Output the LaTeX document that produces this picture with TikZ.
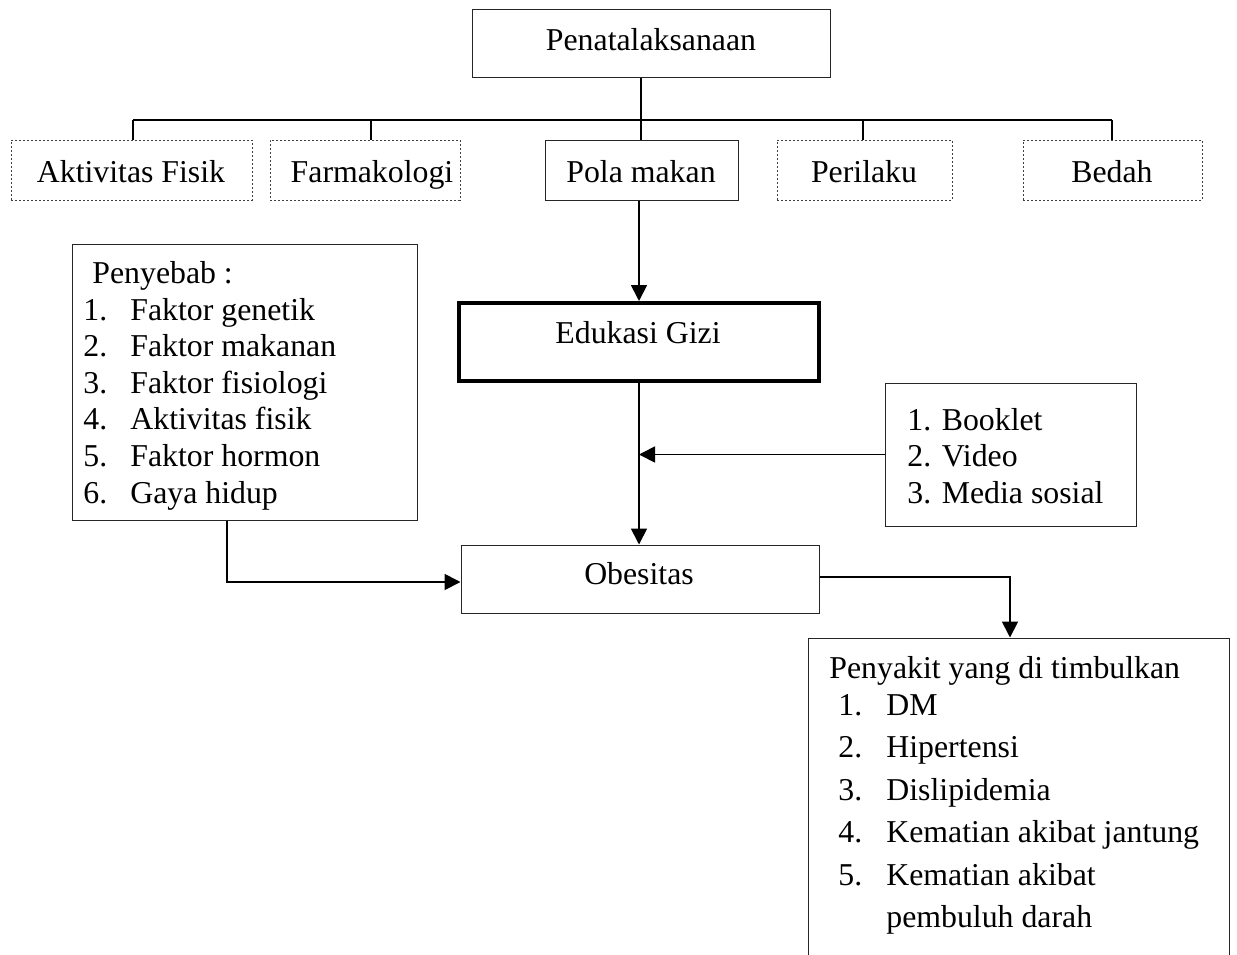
\documentclass[tikz,border=0pt]{standalone}
\usepackage{fontspec}
\setmainfont{Liberation Serif}
\usetikzlibrary{arrows.meta,fit}

\begin{document}
\begin{tikzpicture}[x=0.5pt,y=-0.5pt,
  font=\fontsize{15.9}{19}\selectfont,
  box/.style={draw=black!85, line width=0.5pt, inner sep=0pt},
  dotbox/.style={draw=black!75, line width=0.5pt, inner sep=0pt, dash pattern=on 1.2pt off 0.8pt},
  thickbox/.style={draw, line width=2pt, inner sep=0pt},
  txt/.style={inner sep=0pt},
  link/.style={line width=0.9pt},
  arrow/.style={line width=0.9pt, -{Triangle[length=8pt,width=8pt]}}]

  \clip (0,0) rectangle (1237,954);

  % top level
  \node[box, fit={(472,9) (830,77)}] (pena) {};
  \node[txt, anchor=base] (tpena) at (651,50) {Penatalaksanaan};

  %-------------
  \node[dotbox, fit={(11,140) (252,200)}] (akt) {};
  \node[dotbox, fit={(270,140) (460,200)}] (farm) {};
  \node[box, fit={(545,140) (738,200)}] (pola) {};
  \node[dotbox, fit={(777,140) (952,200)}] (peri) {};
  \node[dotbox, fit={(1023,140) (1202,200)}] (bedah) {};

  \node[txt, anchor=base] (takt) at (131,182) {Aktivitas Fisik};
  \node[txt, anchor=base] (tfarm) at (372,182) {Farmakologi};
  \node[txt, anchor=base] (tpola) at (641,182) {Pola makan};
  \node[txt, anchor=base] (tperi) at (864,182) {Perilaku};
  \node[txt, anchor=base] (tbedah) at (1112,182) {Bedah};

  \coordinate (b1) at (133,120);
  \coordinate (b2) at (371,120);
  \coordinate (b3) at (641,120);
  \coordinate (b4) at (863,120);
  \coordinate (b5) at (1112,120);

  \draw[link] (pena.south -| b3) -- (b3);
  \draw[link] (b1) -- (b5);
  \draw[link] (b1) -- (b1 |- akt.north);
  \draw[link] (b2) -- (b2 |- farm.north);
  \draw[link] (b3) -- (b3 |- pola.north);
  \draw[link] (b4) -- (b4 |- peri.north);
  \draw[link] (b5) -- (b5 |- bedah.north);

  %-------------
  \node[thickbox, fit={(459,303) (819,381)}] (edu) {};
  \node[txt, anchor=base] (tedu) at (638,343) {Edukasi Gizi};

  \node[box, fit={(461,545) (819,613)}] (obes) {};
  \node[txt, anchor=base] (tobes) at (639,584) {Obesitas};

  \draw[arrow] (pola.south -| edu.north) -- (edu.north);
  \draw[arrow] (edu.south) -- (edu.south |- obes.north);

  %-------------
  \node[box, fit={(885,383) (1136,526)}] (media) {};
  \foreach \t [count=\i] in {Booklet, Video, Media sosial}
    \node[txt, anchor=base west] (med\i) at (907,393.4+36.6*\i) {\i. \t};

  \draw[arrow] (media.west) -- (media.west -| edu.south);

  %-------------
  \node[box, fit={(72,244) (417,520)}] (sebab) {};
  \node[txt, anchor=base west] (tsebab) at (92,283) {Penyebab :};
  \foreach \t [count=\i] in {Faktor genetik, Faktor makanan, Faktor fisiologi,
      Aktivitas fisik, Faktor hormon, Gaya hidup} {
    \node[txt, anchor=base west] (snum\i) at (83,283.4+36.6*\i) {\i.};
    \node[txt, anchor=base west] (sitem\i) at (130,283.4+36.6*\i) {\t};
  }

  \coordinate (turn1) at (227,582);
  \draw[arrow] (sebab.south -| turn1) -- (turn1) -- (turn1 -| obes.west);

  %-------------
  \node[box, fit={(808,638) (1229,990)}] (akibat) {};
  \node[txt, anchor=base west] (takibat) at (829,678) {Penyakit yang di timbulkan};
  \foreach \t [count=\i] in {DM, Hipertensi, Dislipidemia,
      Kematian akibat jantung, Kematian akibat} {
    \node[txt, anchor=base west] (knum\i) at (838,672.5+42.5*\i) {\i.};
    \node[txt, anchor=base west] (kitem\i) at (886,672.5+42.5*\i) {\t};
  }
  \node[txt, anchor=base west] (kitem6) at (886,927.5) {pembuluh darah};

  \coordinate (turn2) at (1010,577);
  \draw[arrow] (obes.east |- turn2) -- (turn2) -- (turn2 |- akibat.north);

\end{tikzpicture}
\end{document}
